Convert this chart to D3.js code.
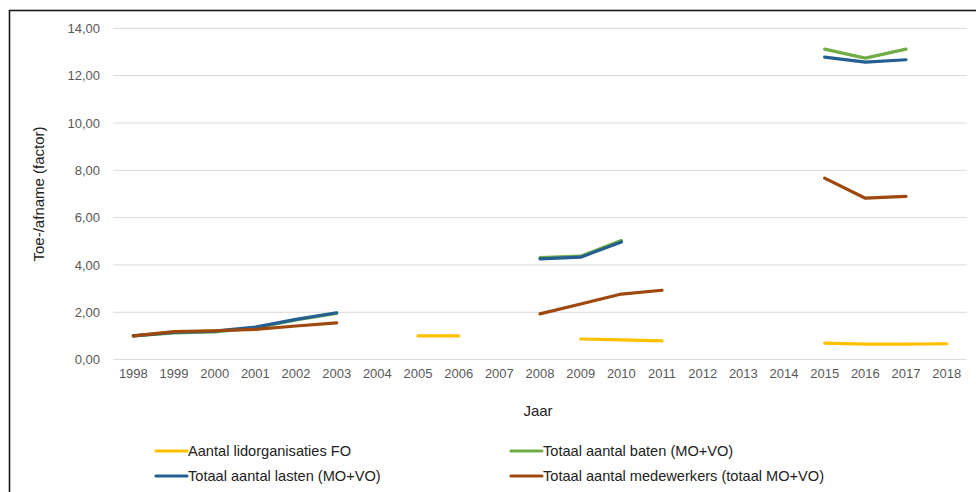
<!DOCTYPE html>
<html>
<head>
<meta charset="utf-8">
<script src="https://cdn.jsdelivr.net/npm/d3@7"></script>
<style>
  html, body { margin: 0; padding: 0; background: #fff; }
  svg { display: block; font-family: "Liberation Sans", Arial, sans-serif; }
</style>
</head>
<body>
<svg id="chart" width="976" height="492"></svg>
<script>
const years = ["1998","1999","2000","2001","2002","2003","2004","2005","2006","2007","2008","2009","2010","2011","2012","2013","2014","2015","2016","2017","2018"];
const yTicks = [0, 2, 4, 6, 8, 10, 12, 14];

const lidorganisaties = [null,null,null,null,null,null,null,1.00,1.00,null,null,0.87,0.83,0.79,null,null,null,0.70,0.65,0.65,0.67];
const baten = [1.00,1.13,1.17,1.34,1.68,1.95,null,null,null,null,4.31,4.37,5.03,null,null,null,null,13.12,12.74,13.12];
const lasten = [1.00,1.15,1.20,1.37,1.70,1.98,null,null,null,null,4.26,4.33,4.97,null,null,null,null,12.78,12.57,12.67];
const medewerkers = [1.00,1.18,1.22,1.28,1.42,1.55,null,null,null,null,1.93,2.35,2.77,2.93,null,null,null,7.67,6.82,6.90];

const seriesNames = ["Aantal lidorganisaties FO","Totaal aantal baten (MO+VO)","Totaal aantal lasten (MO+VO)","Totaal aantal medewerkers (totaal MO+VO)"];
const seriesData = [lidorganisaties, baten, lasten, medewerkers];
const colors = ["#FFC000","#70AD47","#255E91","#9E480E"];

const svg = d3.select("#chart");
const plot = {left: 113, right: 967, top: 28.3, bottom: 359.6};

// frame
svg.append("rect").attr("x", 9.5).attr("y", 10.5).attr("width", 1000).attr("height", 500)
  .attr("fill", "none").attr("stroke", "#1a1a1a").attr("stroke-width", 1.6);

const x = d3.scaleBand().domain(years).range([plot.left, plot.right]).padding(0);
const y = d3.scaleLinear().domain([0, 14]).range([plot.bottom, plot.top]);

// gridlines
svg.append("g").selectAll("line").data(yTicks).join("line")
  .attr("x1", plot.left).attr("x2", plot.right)
  .attr("y1", d => y(d)).attr("y2", d => y(d))
  .attr("stroke", "#d9d9d9").attr("stroke-width", 1);

// y axis labels
const fmt = d => d.toFixed(2).replace(".", ",");
const yAxis = d3.axisLeft(y).tickValues(yTicks).tickFormat(fmt).tickSize(0).tickPadding(0);
const gy = svg.append("g").attr("transform", `translate(${plot.left - 13},0)`).call(yAxis);
gy.select(".domain").remove();
gy.selectAll("text").attr("fill", "#595959").style("font-size", "13px")
  .style("font-family", "'Liberation Sans', Arial, sans-serif");

// x axis labels
const xAxis = d3.axisBottom(x).tickSize(0).tickPadding(0);
const gx = svg.append("g").attr("transform", `translate(0,${plot.bottom + 9})`).call(xAxis);
gx.select(".domain").remove();
gx.selectAll("text").attr("fill", "#595959").style("font-size", "13px")
  .style("font-family", "'Liberation Sans', Arial, sans-serif");

// lines
const line = d3.line()
  .defined(d => d.v !== null && d.v !== undefined)
  .x(d => x(d.year) + x.bandwidth() / 2)
  .y(d => y(d.v));

seriesData.forEach((arr, i) => {
  const pts = years.map((yr, j) => ({year: yr, v: arr[j] === undefined ? null : arr[j]}));
  svg.append("path").datum(pts)
    .attr("d", line)
    .attr("fill", "none")
    .attr("stroke", colors[i])
    .attr("stroke-width", 3.2)
    .attr("stroke-linejoin", "round")
    .attr("stroke-linecap", "round");
});

// axis titles
svg.append("text").attr("x", (plot.left + plot.right) / 2 - 2).attr("y", 416)
  .attr("text-anchor", "middle").attr("fill", "#222").style("font-size", "15px").text("Jaar");
svg.append("text").attr("transform", `translate(43.5,${(plot.top + plot.bottom) / 2}) rotate(-90)`)
  .attr("text-anchor", "middle").attr("fill", "#222").style("font-size", "15px").text("Toe-/afname (factor)");

// legend
const legendPos = [[156, 451], [511, 451], [156, 476], [511, 476]];
seriesNames.forEach((name, i) => {
  const [lx, ly] = legendPos[i];
  svg.append("line").attr("x1", lx).attr("x2", lx + 31).attr("y1", ly).attr("y2", ly)
    .attr("stroke", colors[i]).attr("stroke-width", 3.2).attr("stroke-linecap", "round");
  svg.append("text").attr("x", lx + 32).attr("y", ly + 5)
    .attr("fill", "#222").style("font-size", "14.6px").text(name);
});
</script>
</body>
</html>
